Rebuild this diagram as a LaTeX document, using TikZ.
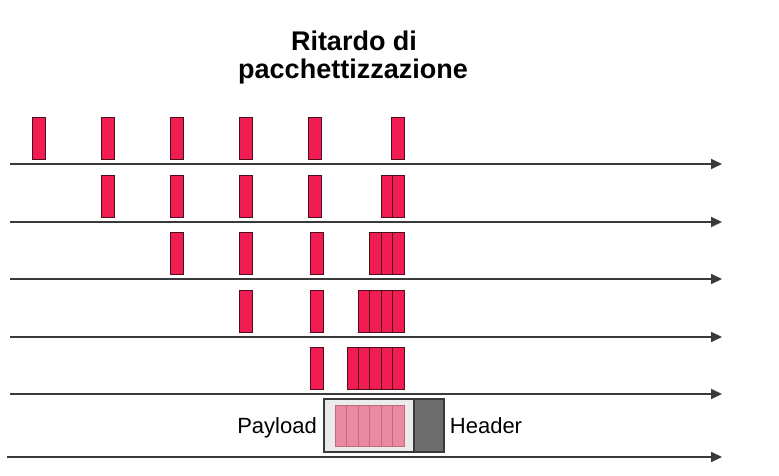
\documentclass[tikz,border=0pt]{standalone}
\usepackage{fontspec}
\setmainfont{Liberation Sans}
\usetikzlibrary{arrows.meta}
\definecolor{pktred}{HTML}{F01C52}
\definecolor{pktedge}{HTML}{4A0E1C}
\definecolor{axisgray}{HTML}{3A3A3A}
\definecolor{paleredfill}{HTML}{E98AA2}
\definecolor{paleredge}{HTML}{C06A82}
\definecolor{boxgray}{HTML}{EBEBEB}
\definecolor{headgray}{HTML}{6E6E6E}
\tikzset{
  pkt/.style={draw=pktedge, fill=pktred, line width=0.9pt},
  timeline/.style={draw=axisgray, line width=2pt, -{Triangle[length=11pt,width=10pt]}},
  payblk/.style={draw=paleredge, fill=paleredfill, line width=0.8pt},
  lbl/.style={font=\fontsize{22}{25}\selectfont, anchor=base, inner sep=0pt},
  ttl/.style={font=\fontsize{27}{29}\selectfont\bfseries, anchor=base, inner sep=0pt},
}
\begin{document}
\begin{tikzpicture}[x=1pt,y=-1pt]
\useasboundingbox (0,0) rectangle (779,476);
% title
\node[ttl] (t1) at (354,51) {Ritardo di};
\node[ttl] (t2) at (353,79) {pacchettizzazione};
% timelines
\foreach \y/\xs [count=\i] in {164/10,222/10,279/10,337/10,394/10,457/7}{
  \coordinate (s\i) at (\xs,\y);
  \coordinate (e\i) at (722,\y);
  \draw[timeline] (s\i) -- (e\i);
}
% single packets (x positions per row)
\foreach \x in {32,101,170,239,308,391} \draw[pkt] (\x,117) rectangle ++(13,42);
\foreach \x in {101,170,239,308} \draw[pkt] (\x,175) rectangle ++(13,42);
\foreach \x in {170,239,310} \draw[pkt] (\x,232) rectangle ++(13,42);
\foreach \x in {239,310} \draw[pkt] (\x,290) rectangle ++(13,42);
\foreach \x in {310} \draw[pkt] (\x,347) rectangle ++(13,42);
% accumulated groups, right aligned at 404
\foreach \n/\top in {2/175,3/232,4/290,5/347}{
  \foreach \k in {1,...,\n}{
    \draw[pkt] ({404-\k*11.4},\top) rectangle ++(11.4,42);
  }
}
% packet: payload + header
\draw[draw=axisgray, fill=boxgray, line width=1.4pt] (324,399) rectangle (444,452);
\draw[draw=axisgray, fill=headgray, line width=1.4pt] (414,399) rectangle (444,452);
\foreach \k in {0,...,5} \draw[payblk] ({335+\k*11.5},405) rectangle ++(11.5,41);
\node[lbl] (pl) at (277,433) {Payload};
\node[lbl] (hd) at (486,433) {Header};
\end{tikzpicture}
\end{document}
